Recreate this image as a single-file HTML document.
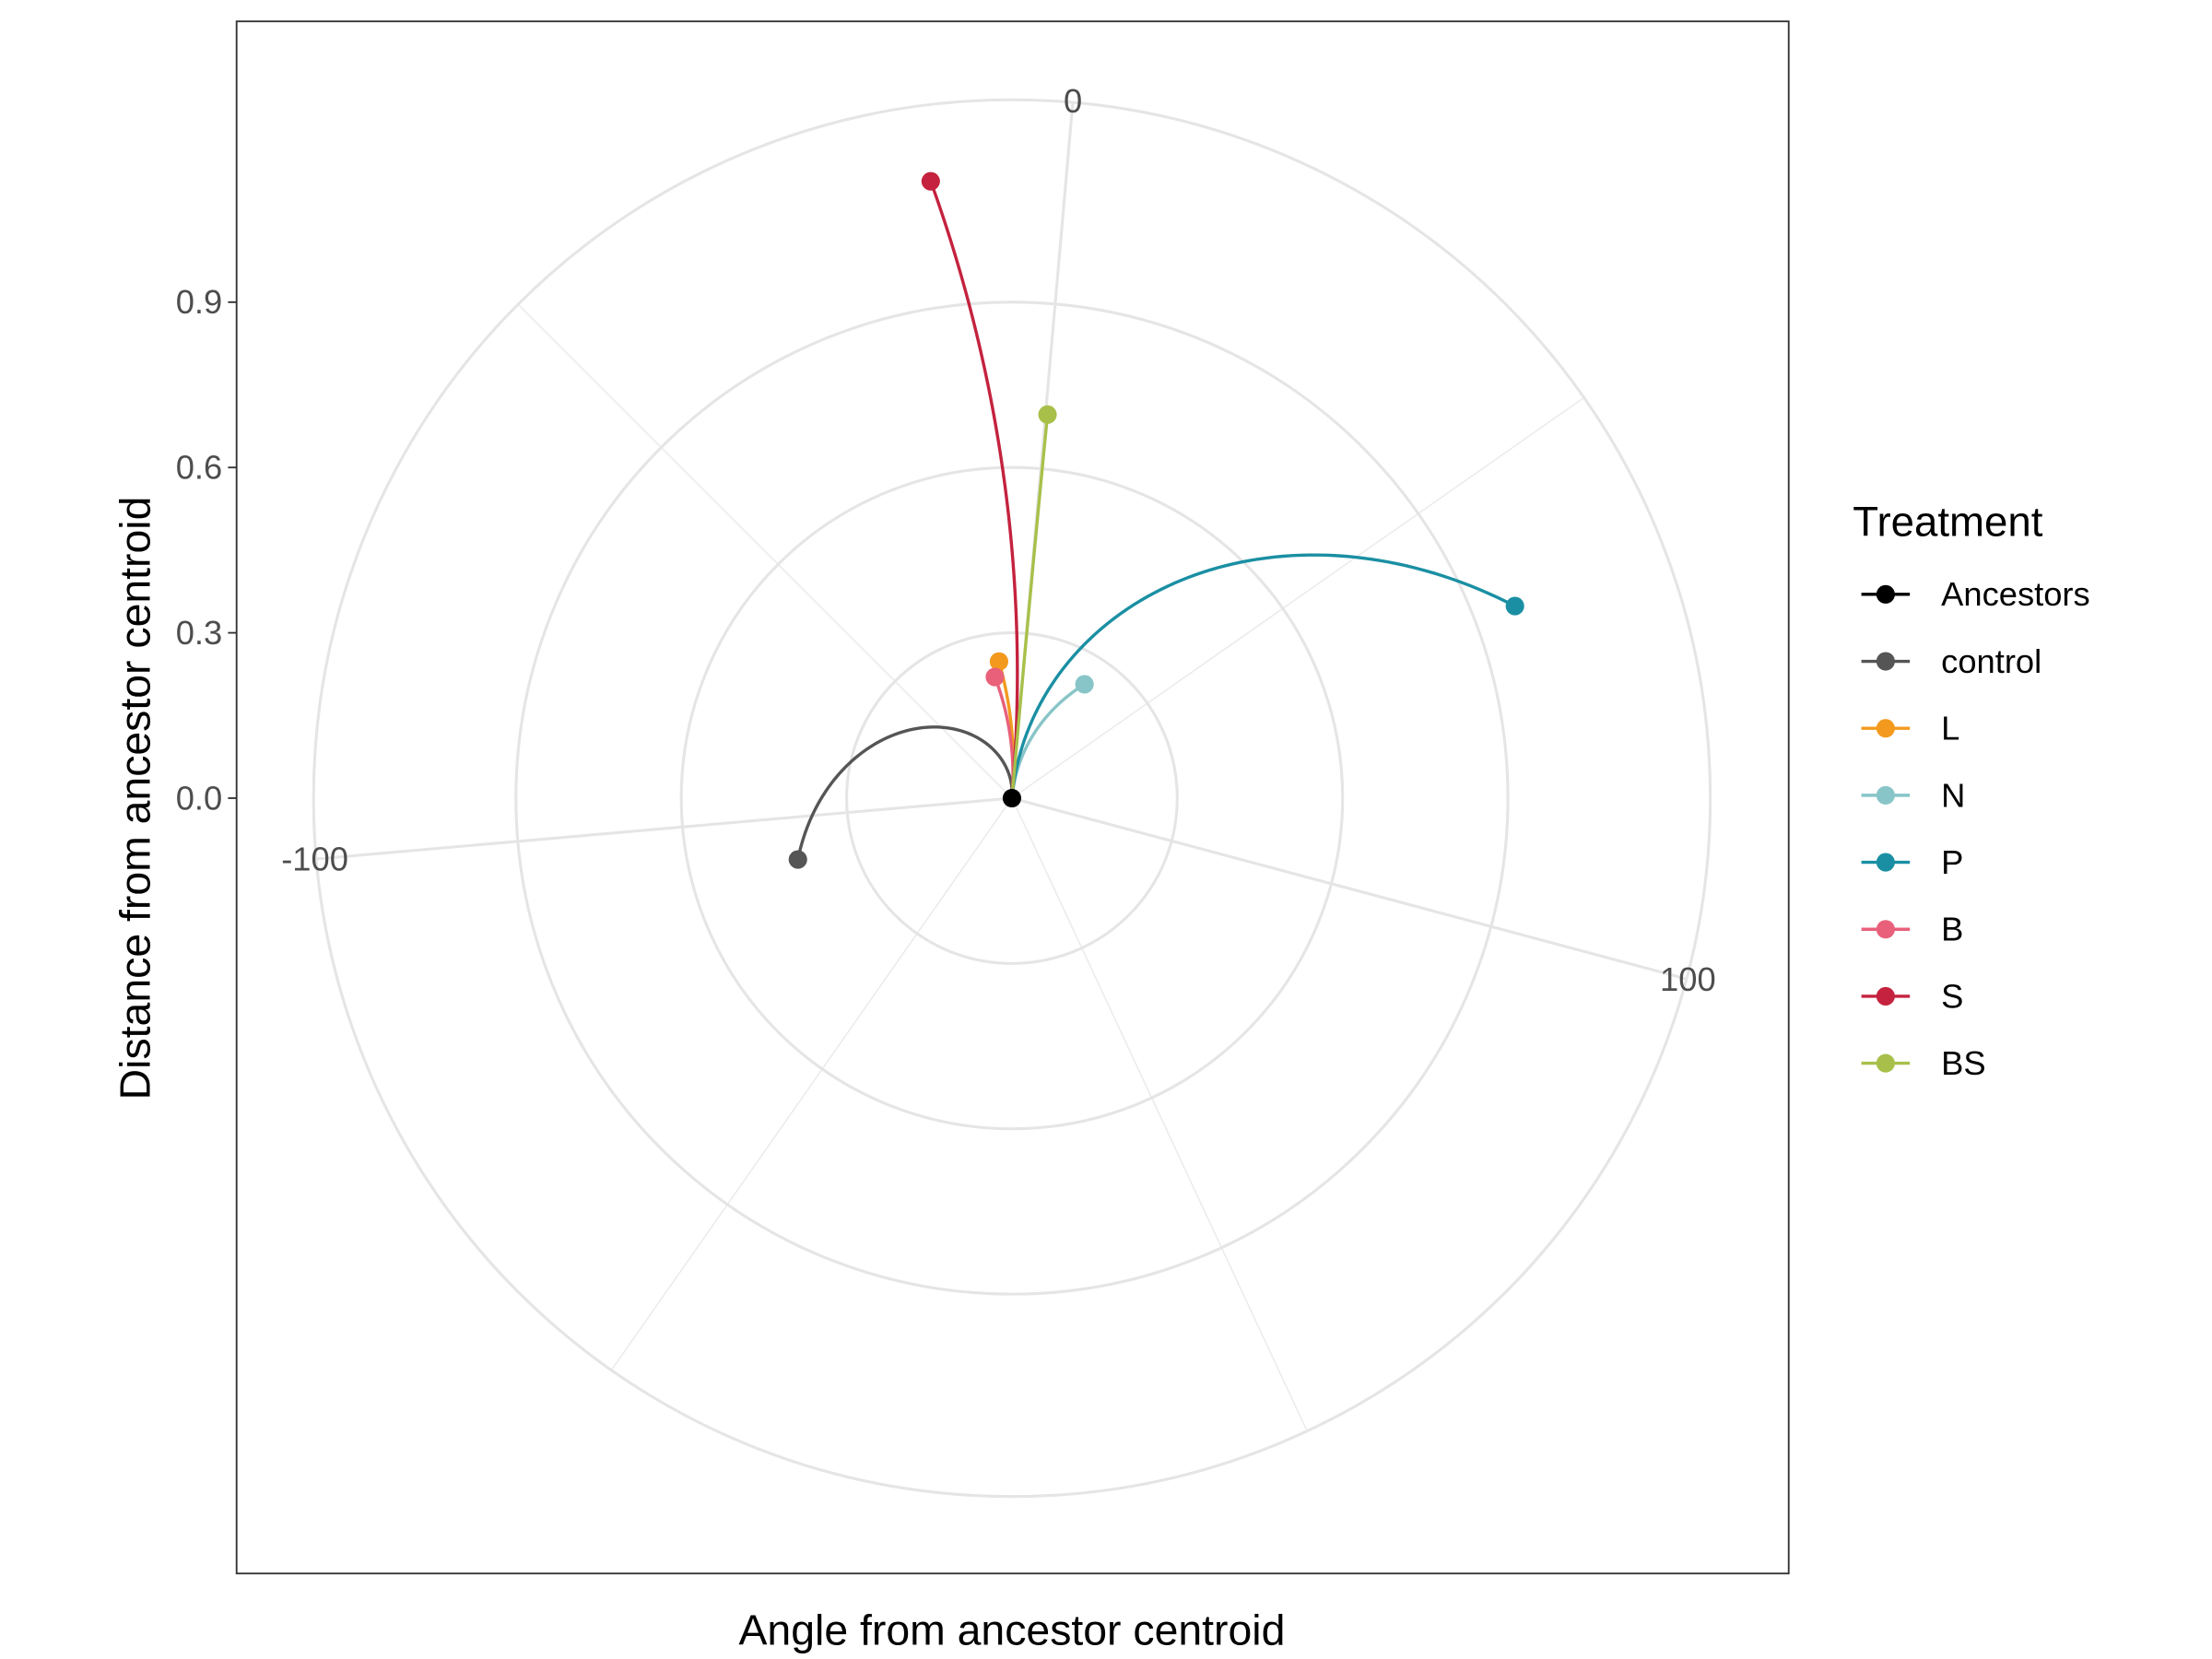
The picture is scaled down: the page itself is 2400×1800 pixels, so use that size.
<!DOCTYPE html>
<html><head><meta charset="utf-8"><style>
html,body{margin:0;padding:0;background:#fff}
svg{display:block}
text{font-family:"Liberation Sans",Arial,sans-serif}
</style></head><body>
<svg id="chart" width="2400" height="1800" viewBox="0 0 1552 1164" xmlns="http://www.w3.org/2000/svg">
<rect x="0" y="0" width="1552" height="1164" fill="#fff"/>
<g id="grid"></g>
<g id="series"></g>
<rect x="166" y="15" width="1089" height="1089" fill="none" stroke="#333" stroke-width="1.2"/>
<g id="yaxis"></g>
<text x="710" y="1154" font-size="30" text-anchor="middle" fill="#000">Angle from ancestor centroid</text>
<text transform="translate(105,560) rotate(-90)" font-size="30" text-anchor="middle" fill="#000">Distance from ancestor centroid</text>
<g id="legend">
<text x="1300" y="376" font-size="29.5" fill="#000">Treatment</text>
</g>
</svg>
<script>
const treatments = ["Ancestors","control","L","N","P","B","S","BS"];
const colors = ["#000000","#555555","#f39a1e","#88c5c8","#1a8fa3","#e8607a","#c4223e","#a8c04a"];
const angles = [0,-111,-10.4,27.5,64.1,-13,-12.5,0.3];
const distances = [0,0.404,0.249,0.245,0.977,0.222,1.129,0.699];
const rTicks = [0.0,0.3,0.6,0.9];
const rTickLabels = ["0.0","0.3","0.6","0.9"];
const thetaMajor = [0,100,-100];
const thetaMinor = [50,150,-50,-150];

const NS="http://www.w3.org/2000/svg";
const cx=710, cy=560, pxPerUnit=386.67, outerR=490, angOffset=5;
function rScale(r){return r*pxPerUnit;}
function tScale(t){return (t+angOffset)*Math.PI/180;}
function pos(t,r){const a=tScale(t),R=rScale(r);return [cx+R*Math.sin(a), cy-R*Math.cos(a)];}
function posPx(t,R){const a=tScale(t);return [cx+R*Math.sin(a), cy-R*Math.cos(a)];}
function mk(tag,attrs,parent){const e=document.createElementNS(NS,tag);for(const k in attrs)e.setAttribute(k,attrs[k]);parent.appendChild(e);return e;}

const grid=document.getElementById('grid');
thetaMinor.forEach(t=>{const p=posPx(t,outerR);
 const l=mk('line',{x1:cx,y1:cy,x2:p[0],y2:p[1],stroke:'#ebebeb','stroke-width':1},grid);
 
 });
thetaMajor.forEach(t=>{const p=posPx(t,outerR);
 const l=mk('line',{x1:cx,y1:cy,x2:p[0],y2:p[1],stroke:'#e5e5e5','stroke-width':2},grid);
 
 });
rTicks.forEach(r=>{if(r<=0)return;
 const c=mk('circle',{cx:cx,cy:cy,r:rScale(r),fill:'none',stroke:'#e5e5e5','stroke-width':2},grid);
 
 });
const oc=mk('circle',{cx:cx,cy:cy,r:outerR,fill:'none',stroke:'#e5e5e5','stroke-width':2},grid);


thetaMajor.forEach(t=>{const p=posPx(t,491);
 const tx=mk('text',{x:p[0],y:p[1]+8,'font-size':23.5,'text-anchor':'middle',fill:'#4d4d4d'},grid);
 tx.textContent=String(t);
 
 });

const ya=document.getElementById('yaxis');
rTicks.forEach((r,i)=>{const y=cy-rScale(r);
 const tk=mk('line',{x1:160,y1:y,x2:166,y2:y,stroke:'#333','stroke-width':1.2},ya);
 
 
 const tx=mk('text',{x:156,y:y+8,'font-size':23.5,'text-anchor':'end',fill:'#4d4d4d'},ya);
 tx.textContent=rTickLabels[i];
 
 });

const sg=document.getElementById('series');
treatments.forEach((name,i)=>{
 if(i===0)return;
 const t1=angles[i], r1=distances[i], N=80; let d='';
 for(let k=0;k<=N;k++){const f=k/N;const p=pos(angles[0]+(t1-angles[0])*f, distances[0]+(r1-distances[0])*f);d+=(k?'L':'M')+p[0].toFixed(2)+','+p[1].toFixed(2);}
 const path=mk('path',{d:d,fill:'none',stroke:colors[i],'stroke-width':2.2},sg);
 
 
});
treatments.forEach((name,i)=>{
 const p=pos(angles[i],distances[i]);
 const c=mk('circle',{cx:p[0],cy:p[1],r:6.5,fill:colors[i]},sg);
 
 
});

const lg=document.getElementById('legend');
treatments.forEach((name,i)=>{const y=417+i*47;
 const g=mk('g',{},lg);
 
 
 mk('line',{x1:1306,y1:y,x2:1340,y2:y,stroke:colors[i],'stroke-width':2.2},g);
 mk('circle',{cx:1323,cy:y,r:6.5,fill:colors[i]},g);
 const tx=mk('text',{x:1362,y:y+8,'font-size':23.5,fill:'#000'},g);
 tx.textContent=name;});
</script>
</body></html>
